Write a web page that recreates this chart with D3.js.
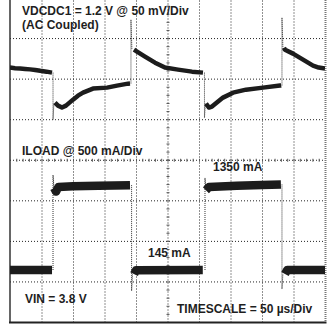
<!DOCTYPE html>
<html>
<head>
<meta charset="utf-8">
<script src="https://cdn.jsdelivr.net/npm/d3@7"></script>
<style>
  body { margin: 0; background: #fff; }
  svg { display: block; }
  text { font-family: "Liberation Sans", Arial, sans-serif; font-weight: bold; font-size: 12px; fill: #1e1e1e; }
</style>
</head>
<body>
<svg></svg>
<script>
"use strict";

// graticule: 10 x 8 divisions, 50 us/div
var xDivs = [1, 2, 3, 4, 5, 6, 7, 8, 9];
var yDivs = [-3, -2, -1, 0, 1, 2, 3];

// VDCDC1 ripple, AC coupled: [time us, mV]
var vddSegments = [
    [[0, 13.6], [8, 12.9], [16, 12.5], [24, 12.0], [32, 11.4], [40, 10.6], [48, 9.6], [58, 8.6], [66.7, 7.4]],
    [[71.4, -29.6], [76.2, -33.3], [82.5, -35.7], [88.9, -33.3], [100, -25.9], [107.9, -21], [115.9, -17.3],
     [131.7, -12.3], [154, -11.1], [169.8, -8.6], [187.3, -6.2], [190.5, -6.0]],
    [[196.8, 35.7], [201.6, 33.3], [214.3, 27.1], [230.2, 19.7], [246, 13.6], [266.7, 11.1], [288.9, 8.6], [306.3, 7.4]],
    [[311.1, -30.8], [315.9, -35.7], [320.6, -34.5], [338.1, -23.4], [354, -17.3], [374.6, -13.6],
     [401.6, -11.1], [428.6, -8.6], [430.5, -8.4]],
    [[434.9, 38.2], [436.5, 35.7], [449.2, 30.8], [465.1, 23.4], [481, 16], [490, 13.6], [500, 12.3]]
];
// fast edges: [time us, from mV, to mV, settle mV]
var vddEdges = [
    [68.3, 7.4, -50.5, -29.6],
    [192, -6.0, 72.7, 35.7],
    [308.7, 7.4, -48.1, -30.8],
    [431.7, -8.4, 75.2, 38.2]
];

// ILOAD: [time us, mA]
var iloadSegments = [
    [[0, 145], [66.7, 145]],
    [[70, 1320], [73, 1270], [77, 1335], [100, 1345], [140, 1352], [190.5, 1362]],
    [[197, 85], [200, 140], [306, 145]],
    [[311, 1290], [316, 1335], [360, 1352], [400, 1365], [430, 1372]],
    [[436.5, 88], [440, 145], [500, 145]]
];
var iloadEdges = [
    [68.3, 145, 1508, 1320],
    [193, 1362, -155, 85],
    [309.5, 145, 1465, 1290],
    [431.7, 1372, -128, 88]
];

var labels = [
    {text: "VDCDC1 = 1.2 V @ 50 mV/Div", x: 22, y: 15},
    {text: "(AC Coupled)", x: 22, y: 29},
    {text: "ILOAD @ 500 mA/Div", x: 22, y: 155},
    {text: "1350 mA", x: 213, y: 171},
    {text: "145 mA", x: 148, y: 257},
    {text: "VIN = 3.8 V", x: 25, y: 303},
    {text: "TIMESCALE = 50 \u00b5s/Div", x: 177, y: 313}
];

var svg = d3.select("svg").attr("width", 333).attr("height", 333);

var plotLeft = 10, plotRight = 325, plotTop = -2.5, plotBottom = 322;

// scales
var x = d3.scaleLinear().domain([0, 500]).range([plotLeft, plotRight]);
var yDiv = d3.scaleLinear().domain([-4, 4]).range([plotBottom, plotTop]);
var vY = d3.scaleLinear().domain([-50, 50]).range([yDiv(1), yDiv(3)]);
var iY = d3.scaleLinear().domain([145, 1350]).range([270, 186]);

svg.append("clipPath").attr("id", "plot")
    .append("rect").attr("x", plotLeft).attr("y", plotTop)
    .attr("width", plotRight - plotLeft).attr("height", plotBottom - plotTop);

// grid
var grid = svg.append("g").attr("stroke", "#222").attr("stroke-width", 1).attr("stroke-dasharray", "1,2");
grid.selectAll(".vx").data(xDivs).enter().append("line")
    .attr("x1", d => x(d * 50) + 0.5).attr("x2", d => x(d * 50) + 0.5)
    .attr("y1", plotTop).attr("y2", plotBottom);
grid.selectAll(".hy").data(yDivs).enter().append("line")
    .attr("x1", plotLeft).attr("x2", plotRight)
    .attr("y1", d => yDiv(d) + 0.5).attr("y2", d => yDiv(d) + 0.5);

// minor ticks on the centre axes
var ticks = svg.append("g").attr("stroke", "#555").attr("stroke-width", 1);
ticks.selectAll(".tx").data(d3.range(1, 50)).enter().append("line")
    .attr("x1", d => x(d * 10) + 0.5).attr("x2", d => x(d * 10) + 0.5)
    .attr("y1", yDiv(0) - 1).attr("y2", yDiv(0) + 2);
ticks.selectAll(".ty").data(d3.range(-19, 20)).enter().append("line")
    .attr("x1", x(250) - 1).attr("x2", x(250) + 2)
    .attr("y1", d => yDiv(d / 5) + 0.5).attr("y2", d => yDiv(d / 5) + 0.5);

// frame
svg.append("line").attr("x1", plotLeft).attr("x2", plotLeft).attr("y1", 0).attr("y2", plotBottom)
    .attr("stroke", "#333").attr("stroke-width", 1.5);
svg.append("line").attr("x1", plotRight + 0.5).attr("x2", plotRight + 0.5).attr("y1", 0).attr("y2", plotBottom)
    .attr("stroke", "#777").attr("stroke-width", 2).attr("stroke-dasharray", "1,1");
svg.append("line").attr("x1", plotLeft - 1).attr("x2", plotRight + 1.5)
    .attr("y1", plotBottom + 0.5).attr("y2", plotBottom + 0.5)
    .attr("stroke", "#222").attr("stroke-width", 2);

var traces = svg.append("g").attr("clip-path", "url(#plot)");

function drawChannel(segments, edges, yScale, width) {
    var line = d3.line().x(d => x(d[0])).y(d => yScale(d[1]));
    // thin dotted edges
    traces.selectAll(null).data(edges).enter().append("path")
        .attr("d", d => line([[d[0], d[1]], [d[0], d[2]], [d[0] + 1.5, d[3]]]))
        .attr("fill", "none").attr("stroke", "#333").attr("stroke-width", 1)
        .attr("stroke-dasharray", "1,1");
    traces.selectAll(null).data(segments).enter().append("path")
        .attr("d", line)
        .attr("fill", "none").attr("stroke", "#1c1c1c")
        .attr("stroke-width", width).attr("stroke-linejoin", "round");
}

drawChannel(vddSegments, vddEdges, vY, 4.5);
drawChannel(iloadSegments, iloadEdges, iY, 8.5);

// labels
svg.selectAll(".lbl").data(labels).enter().append("text")
    .attr("x", d => d.x).attr("y", d => d.y)
    .text(d => d.text);
</script>
</body>
</html>
